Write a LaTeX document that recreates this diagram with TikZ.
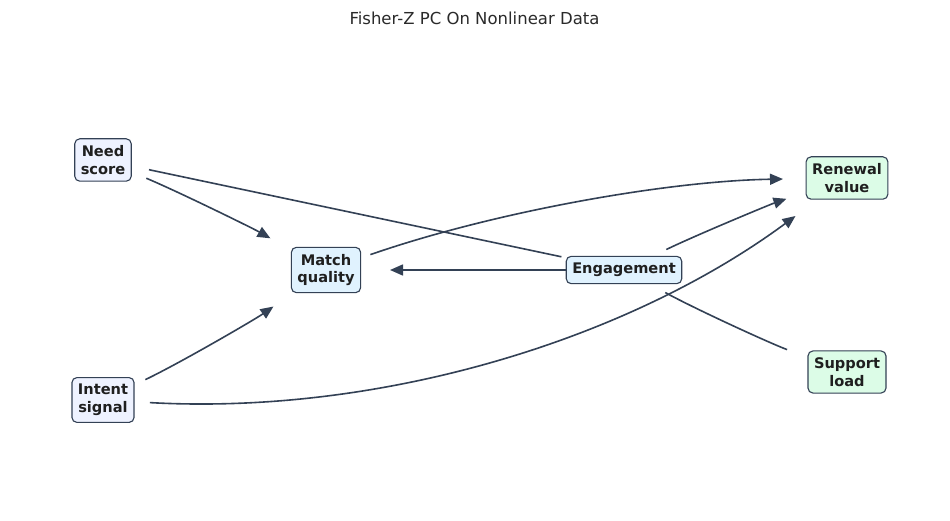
\documentclass[tikz,border=0pt]{standalone}
\usepackage{fontspec}
\setmainfont{DejaVu Sans}
\usetikzlibrary{arrows.meta,backgrounds}
\definecolor{edgec}{HTML}{334155}
\definecolor{inputc}{HTML}{EEF2FF}
\definecolor{midc}{HTML}{E0F2FE}
\definecolor{outc}{HTML}{DCFCE7}
\definecolor{textc}{HTML}{1F1F1F}
\tikzset{
  vbox/.style={draw=edgec, line width=1.1pt, rounded corners=5pt, inner xsep=6pt, inner ysep=6.8pt,
    align=center, text=textc, font=\bfseries\fontsize{14.6}{17.5}\selectfont},
  inbox/.style={vbox, fill=inputc},
  midbox/.style={vbox, fill=midc},
  outbox/.style={vbox, fill=outc},
  link/.style={draw=edgec, line width=1.6pt, shorten <=47pt, shorten >=64pt},
  arc/.style={link, -{Triangle[length=13pt,width=11pt]}},
}
\begin{document}
\begin{tikzpicture}[x=1pt,y=-1pt]
\useasboundingbox (0,0) rectangle (950,521);
\node[text=textc!95, font=\fontsize{16.5}{20}\selectfont] (title) at (474.5,18) {Fisher-Z PC On Nonlinear Data};
\node[inbox] (need) at (103,160) {Need\\score};
\node[inbox] (intent) at (103,400) {Intent\\signal};
\node[midbox] (match) at (326,270) {Match\\quality};
\node[midbox] (eng) at (624,270) {Engagement};
\node[outbox] (renew) at (847,178) {Renewal\\value};
\node[outbox] (support) at (847,372) {Support\\load};
\begin{pgfonlayer}{background}
\fill[white] (0,0) rectangle (950,521);
\draw[link] (need.center) -- (eng.center);
\draw[arc] (need.center) .. controls (179.5,192.2) and (253.9,228.9) .. (match.center);
\draw[arc] (intent.center) .. controls (180.8,362.6) and (255.1,319.3) .. (match.center);
\draw[arc] (intent.center) .. controls (377.7,415.3) and (625.7,341.3) .. (renew.center);
\draw[arc] (match.center) .. controls (494.7,211.5) and (668.4,180.9) .. (renew.center);
\draw[arc] (eng.center) -- (match.center);
\draw[arc] (eng.center) .. controls (696.5,234.9) and (770.8,204.2) .. (renew.center);
\draw[link] (eng.center) .. controls (695.9,309.3) and (770.2,343.3) .. (support.center);
\end{pgfonlayer}
\end{tikzpicture}
\end{document}
